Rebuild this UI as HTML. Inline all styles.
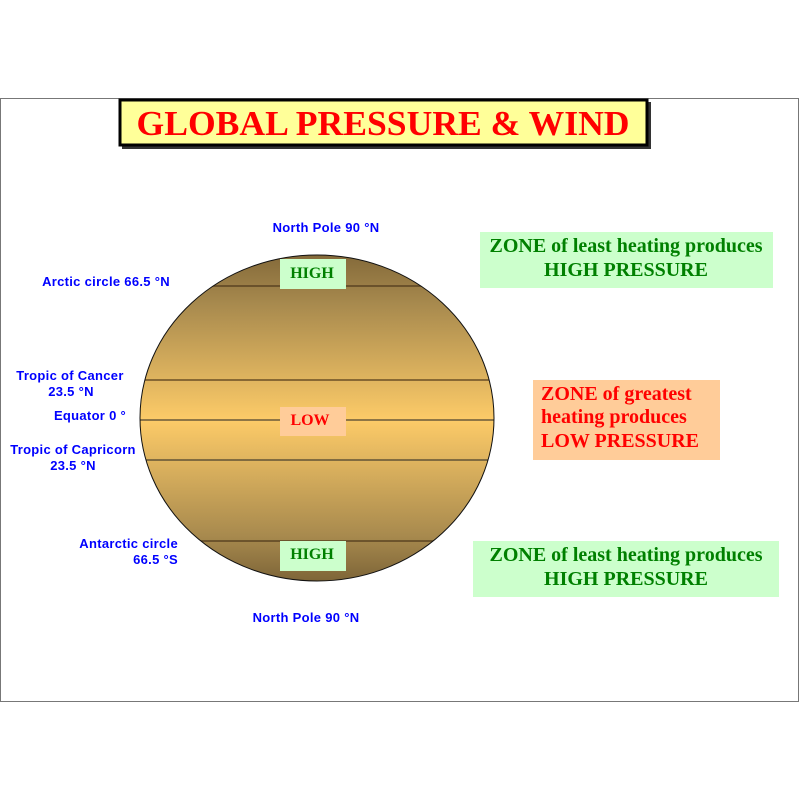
<!DOCTYPE html>
<html><head><style>body{margin:0;background:#fff}</style></head><body>
<svg width="800" height="800" xmlns="http://www.w3.org/2000/svg">
<defs>
<linearGradient id="g" x1="0" y1="255" x2="0" y2="585" gradientUnits="userSpaceOnUse">
<stop offset="0" stop-color="#846a3a"/>
<stop offset="0.15" stop-color="#a88a4e"/>
<stop offset="0.5" stop-color="#fdcb68"/>
<stop offset="0.85" stop-color="#a88a4e"/>
<stop offset="1" stop-color="#7a6236"/>
</linearGradient>
<clipPath id="c"><ellipse cx="317" cy="418" rx="177" ry="163"/></clipPath>
</defs>
<rect x="0.5" y="98.5" width="798" height="603" fill="#fff" stroke="#777" stroke-width="1"/>
<rect x="122" y="102" width="529" height="47" fill="#333"/>
<rect x="120" y="100" width="527" height="45" fill="#ffff99" stroke="#000" stroke-width="3"/>
<text x="383" y="135" text-anchor="middle" font-family="Liberation Serif, serif" font-weight="bold" font-size="35" fill="#ff0000" textLength="493" lengthAdjust="spacingAndGlyphs">GLOBAL PRESSURE &amp; WIND</text>
<ellipse cx="317" cy="418" rx="177" ry="163" fill="url(#g)"/>
<g clip-path="url(#c)" stroke-width="1">
<line x1="130" y1="286" x2="505" y2="286" stroke="#5a4322" stroke-width="1.5"/>
<line x1="130" y1="380" x2="505" y2="380" stroke="#6a4e26" stroke-width="1.5"/>
<line x1="130" y1="420" x2="505" y2="420" stroke="#222"/>
<line x1="130" y1="460" x2="505" y2="460" stroke="#222"/>
<line x1="130" y1="541" x2="505" y2="541" stroke="#5a4322" stroke-width="1.5"/>
</g>
<ellipse cx="317" cy="418" rx="177" ry="163" fill="none" stroke="#111" stroke-width="1"/>
<rect x="280" y="259" width="66" height="30" fill="#ccffcc"/>
<text x="312" y="278" text-anchor="middle" font-family="Liberation Serif, serif" font-weight="bold" font-size="16" fill="#008000">HIGH</text>
<rect x="280" y="407" width="66" height="29" fill="#ffcc99"/>
<text x="310" y="425" text-anchor="middle" font-family="Liberation Serif, serif" font-weight="bold" font-size="16" fill="#ff0000">LOW</text>
<rect x="280" y="541" width="66" height="30" fill="#ccffcc"/>
<text x="312" y="559" text-anchor="middle" font-family="Liberation Serif, serif" font-weight="bold" font-size="16" fill="#008000">HIGH</text>
<g font-family="Liberation Sans, sans-serif" font-weight="bold" font-size="13" fill="#0000ff" letter-spacing="0.3">
<text x="326" y="232" text-anchor="middle">North Pole 90 °N</text>
<text x="106" y="286" text-anchor="middle">Arctic circle 66.5 °N</text>
<text x="70" y="380" text-anchor="middle">Tropic of Cancer</text>
<text x="71" y="396" text-anchor="middle">23.5 °N</text>
<text x="90" y="420" text-anchor="middle">Equator 0 °</text>
<text x="73" y="454" text-anchor="middle">Tropic of Capricorn</text>
<text x="73" y="470" text-anchor="middle">23.5 °N</text>
<text x="178" y="548" text-anchor="end">Antarctic circle</text>
<text x="178" y="564" text-anchor="end">66.5 °S</text>
<text x="306" y="622" text-anchor="middle">North Pole 90 °N</text>
</g>
<g font-family="Liberation Serif, serif" font-weight="bold" font-size="20">
<rect x="480" y="232" width="293" height="56" fill="#ccffcc"/>
<text x="626" y="252" text-anchor="middle" fill="#008000">ZONE of least heating produces</text>
<text x="626" y="276" text-anchor="middle" fill="#008000">HIGH PRESSURE</text>
<rect x="533" y="380" width="187" height="80" fill="#ffcc99"/>
<text x="541" y="400" fill="#ff0000">ZONE of greatest</text>
<text x="541" y="423" fill="#ff0000">heating produces</text>
<text x="541" y="447" fill="#ff0000">LOW PRESSURE</text>
<rect x="473" y="541" width="306" height="56" fill="#ccffcc"/>
<text x="626" y="561" text-anchor="middle" fill="#008000">ZONE of least heating produces</text>
<text x="626" y="585" text-anchor="middle" fill="#008000">HIGH PRESSURE</text>
</g>
</svg>
</body></html>
